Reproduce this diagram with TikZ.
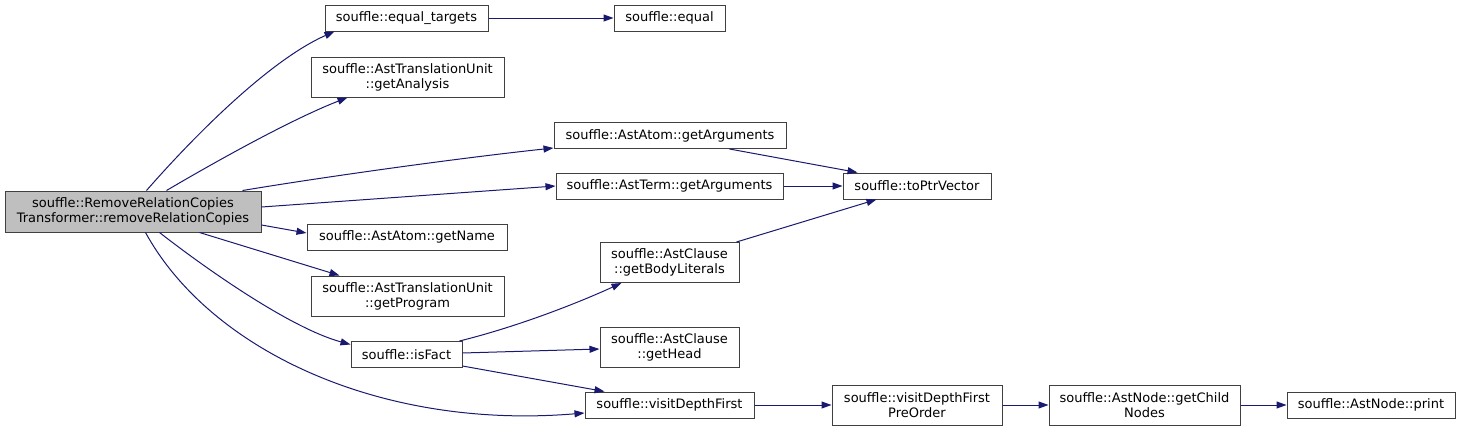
\documentclass[tikz,border=0pt]{standalone}
\usepackage{fontspec}
\setmainfont{DejaVu Sans}
\usetikzlibrary{arrows.meta,calc}
\definecolor{edgeblue}{HTML}{191970}
\definecolor{boxgray}{HTML}{BFBFBF}
\begin{document}
\begin{tikzpicture}[x=1pt,y=-1pt,
  box/.style={draw=black!75,line width=1pt,fill=white,inner sep=0pt,align=center,
    font=\fontsize{13}{15}\selectfont},
  edge/.style={draw=edgeblue,line width=1pt,-{Triangle[length=10pt,width=7pt]}}]
\useasboundingbox (0,0) rectangle (1460,431);
\node[box,fill=boxgray,minimum width=256,minimum height=41] (main) at (133,211.5) {souffle::RemoveRelationCopies\\Transformer::removeRelationCopies};
\node[box,minimum width=163,minimum height=26] (eqt) at (406.5,18) {souffle::equal\_targets};
\node[box,minimum width=111,minimum height=26] (equal) at (669.5,18) {souffle::equal};
\node[box,minimum width=193,minimum height=40] (ana) at (407.5,77) {souffle::AstTranslationUnit\\::getAnalysis};
\node[box,minimum width=232,minimum height=26] (aargs) at (670,135.5) {souffle::AstAtom::getArguments};
\node[box,minimum width=227,minimum height=26] (targs) at (669.5,186) {souffle::AstTerm::getArguments};
\node[box,minimum width=148,minimum height=26] (toptr) at (917,186) {souffle::toPtrVector};
\node[box,minimum width=200,minimum height=26] (gname) at (407,237) {souffle::AstAtom::getName};
\node[box,minimum width=193,minimum height=40] (gprog) at (407.5,296) {souffle::AstTranslationUnit\\::getProgram};
\node[box,minimum width=111,minimum height=26] (isfact) at (406.5,354.5) {souffle::isFact};
\node[box,minimum width=139,minimum height=40] (body) at (669.5,262.5) {souffle::AstClause\\::getBodyLiterals};
\node[box,minimum width=139,minimum height=40] (head) at (669.5,347) {souffle::AstClause\\::getHead};
\node[box,minimum width=169,minimum height=26] (vdf) at (669.5,405) {souffle::visitDepthFirst};
\node[box,minimum width=170,minimum height=40] (pre) at (917,405) {souffle::visitDepthFirst\\PreOrder};
\node[box,minimum width=191,minimum height=40] (child) at (1144.5,405) {souffle::AstNode::getChild\\Nodes};
\node[box,minimum width=168,minimum height=26] (print) at (1371,405) {souffle::AstNode::print};

\draw[edge] ($(main.north west)+(142,0)$) .. controls (195,135) and (270,60) .. ($(eqt.south west)+(10,0)$);
\draw[edge] ($(main.north west)+(162,0)$) .. controls (215,162) and (290,120) .. ($(ana.south west)+(37,0)$);
\draw[edge] ($(main.north west)+(238,0)$) .. controls (330,176) and (460,158) .. ($(aargs.south west)+(0,-1)$);
\draw[edge] ($(main.east)+(0,-4.5)$) -- (targs.west);
\draw[edge] ($(main.east)+(0,13.5)$) -- ($(gname.west)+(0,-4)$);
\draw[edge] ($(main.south west)+(195,0)$) -- ($(gprog.north west)+(29,0)$);
\draw[edge] ($(main.south west)+(155,0)$) .. controls (205,268) and (290,328) .. ($(isfact.west)+(0,-10)$);
\draw[edge] ($(main.south west)+(141,0)$) .. controls (210,350) and (380,430) .. ($(vdf.west)+(0,8)$);
\draw[edge] (eqt) -- (equal);
\draw[edge] ($(aargs.south west)+(176,0)$) -- ($(toptr.north west)+(15,0)$);
\draw[edge] (targs) -- (toptr);
\draw[edge] ($(body.north east)+(-3,0)$) -- ($(toptr.south west)+(34,0)$);
\draw[edge] ($(isfact.north east)+(-3,0)$) .. controls (520,326) and (580,302) .. ($(body.south west)+(22,0)$);
\draw[edge] ($(isfact.east)+(0,-1.5)$) -- ($(head.west)+(0,2)$);
\draw[edge] ($(isfact.south east)+(0,-2)$) -- ($(vdf.north west)+(20,0)$);
\draw[edge] (vdf) -- (pre);
\draw[edge] (pre) -- (child);
\draw[edge] (child) -- (print);
\end{tikzpicture}
\end{document}
